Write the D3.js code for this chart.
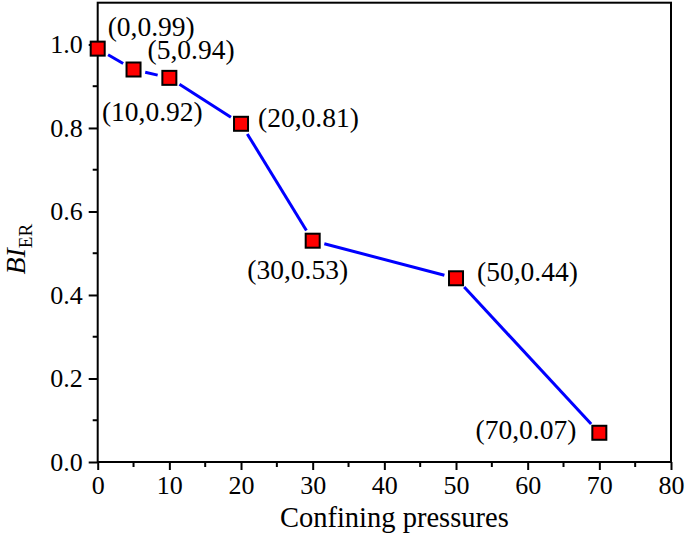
<!DOCTYPE html>
<html><head><meta charset="utf-8">
<script src="https://cdn.jsdelivr.net/npm/d3@7"></script>
</head><body style="margin:0">
<svg id="c" width="685" height="538"></svg>
<script>
const pressures = [0, 5, 10, 20, 30, 50, 70];
const biER = [0.99, 0.94, 0.92, 0.81, 0.53, 0.44, 0.07];
const xTicks = [0, 10, 20, 30, 40, 50, 60, 70, 80];
const yTicks = [0.0, 0.2, 0.4, 0.6, 0.8, 1.0];
const xTitle = "Confining pressures";

// label placement (layout only)
const labelLayout = [
  {dx: 10, dy: -13, anchor: "start"},
  {dx: 14, dy: -11, anchor: "start"},
  {dx: -17, dy: 43, anchor: "middle"},
  {dx: 17, dy: 3, anchor: "start"},
  {dx: -15, dy: 38, anchor: "middle"},
  {dx: 21, dy: 3, anchor: "start"},
  {dx: -23, dy: 6, anchor: "end"}
];

const FONT = "Liberation Serif";
const svg = d3.select("#c");
const L = 97.7, R = 671, T = 2.7, B = 462;
const x = d3.scaleLinear().domain([0, 80]).range([L, R]);
const y = d3.scaleLinear().domain([0, 1.1]).range([B, T]);

// frame
svg.append("rect").attr("x", L).attr("y", T).attr("width", R - L).attr("height", B - T)
  .attr("fill", "none").attr("stroke", "#000").attr("stroke-width", 2);

// x axis
const xMinor = d3.range(5, 80, 10);
const gx = svg.append("g").attr("transform", `translate(0,${B})`);
gx.call(d3.axisBottom(x).tickValues(xTicks).tickSize(8).tickPadding(6).tickFormat(d3.format("d")));
gx.attr("font-family", null).attr("font-size", null);
gx.select(".domain").remove();
gx.selectAll(".tick line").attr("stroke-width", 2);
gx.selectAll(".tick text").attr("fill", "#000").attr("font-family", FONT).attr("font-size", 26);
gx.selectAll("line.minor").data(xMinor).enter().append("line")
  .attr("x1", d => x(d)).attr("x2", d => x(d)).attr("y1", 0).attr("y2", 5)
  .attr("stroke", "#000").attr("stroke-width", 2);

// y axis
const yMinor = d3.range(0.1, 1.1, 0.2);
const gy = svg.append("g").attr("transform", `translate(${L},0)`);
gy.call(d3.axisLeft(y).tickValues(yTicks).tickSize(9).tickPadding(6).tickFormat(d3.format(".1f")));
gy.attr("font-family", null).attr("font-size", null);
gy.select(".domain").remove();
gy.selectAll(".tick line").attr("stroke-width", 2);
gy.selectAll(".tick text").attr("fill", "#000").attr("font-family", FONT).attr("font-size", 26);
gy.selectAll("line.minor").data(yMinor).enter().append("line")
  .attr("x1", 0).attr("x2", -5).attr("y1", d => y(d)).attr("y2", d => y(d))
  .attr("stroke", "#000").attr("stroke-width", 2);

// titles
svg.append("text").attr("x", x(40) + 10).attr("y", 527).attr("text-anchor", "middle")
  .attr("font-family", FONT).attr("font-size", 28.5).text(xTitle);
const yt = svg.append("text").attr("transform", `translate(25,${y(0.5) - 4}) rotate(-90)`)
  .attr("text-anchor", "middle").attr("font-family", FONT).attr("font-size", 28);
yt.append("tspan").attr("font-style", "italic").text("BI");
yt.append("tspan").attr("dy", 7).attr("font-size", 19).text("ER");

// data
const pts = pressures.map((p, i) => ({x: x(p), y: y(biER[i]), p, v: biER[i]}));
const gap = 12;
const segs = svg.append("g");
for (let i = 0; i < pts.length - 1; i++) {
  const a = pts[i], b = pts[i + 1];
  const dx = b.x - a.x, dy = b.y - a.y, len = Math.hypot(dx, dy);
  const ux = dx / len, uy = dy / len;
  if (len > 2 * gap) {
    segs.append("line")
      .attr("x1", a.x + ux * gap).attr("y1", a.y + uy * gap)
      .attr("x2", b.x - ux * gap).attr("y2", b.y - uy * gap)
      .attr("stroke", "#0000ff").attr("stroke-width", 3);
  }
}
const ms = 14;
svg.append("g").selectAll("rect").data(pts).enter().append("rect")
  .attr("x", d => d.x - ms / 2).attr("y", d => d.y - ms / 2)
  .attr("width", ms).attr("height", ms)
  .attr("fill", "#ff0000").attr("stroke", "#000").attr("stroke-width", 2);

svg.append("g").selectAll("text").data(pts).enter().append("text")
  .attr("x", (d, i) => d.x + labelLayout[i].dx)
  .attr("y", (d, i) => d.y + labelLayout[i].dy)
  .attr("text-anchor", (d, i) => labelLayout[i].anchor)
  .attr("font-family", FONT).attr("font-size", 27.5)
  .text(d => `(${d.p},${d.v.toFixed(2)})`);
</script>
</body></html>
